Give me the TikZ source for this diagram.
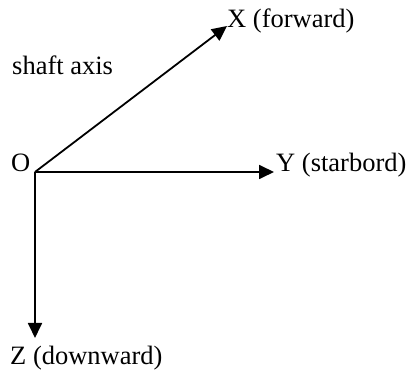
\documentclass[tikz,border=0pt]{standalone}
\usepackage{fontspec}
\setmainfont{Liberation Serif}
\usetikzlibrary{arrows.meta}
\begin{document}
\begin{tikzpicture}[x=1pt,y=-1pt,
  axis/.style={line width=1.8pt,-{Triangle[length=15pt,width=14pt]}},
  lbl/.style={inner sep=0pt,anchor=base west,font=\fontsize{26.5}{30}\selectfont}]
  \useasboundingbox (0,0) rectangle (408,371);
  \coordinate (O) at (35,172);
  \coordinate (xe) at (227,26);
  \coordinate (ye) at (274,172);
  \coordinate (ze) at (35,338);
  \draw[axis] (O) -- (xe);
  \draw[axis] (O) -- (ye);
  \draw[axis] (O) -- (ze);
  \node[lbl] (xl) at (227,28) {X (forward)};
  \node[lbl] (yl) at (276,172) {Y (starbord)};
  \node[lbl] (zl) at (10,365) {Z (downward)};
  \node[lbl] (ol) at (11,172) {O};
  \node[lbl] (sl) at (12,75) {shaft axis};
\end{tikzpicture}
\end{document}
